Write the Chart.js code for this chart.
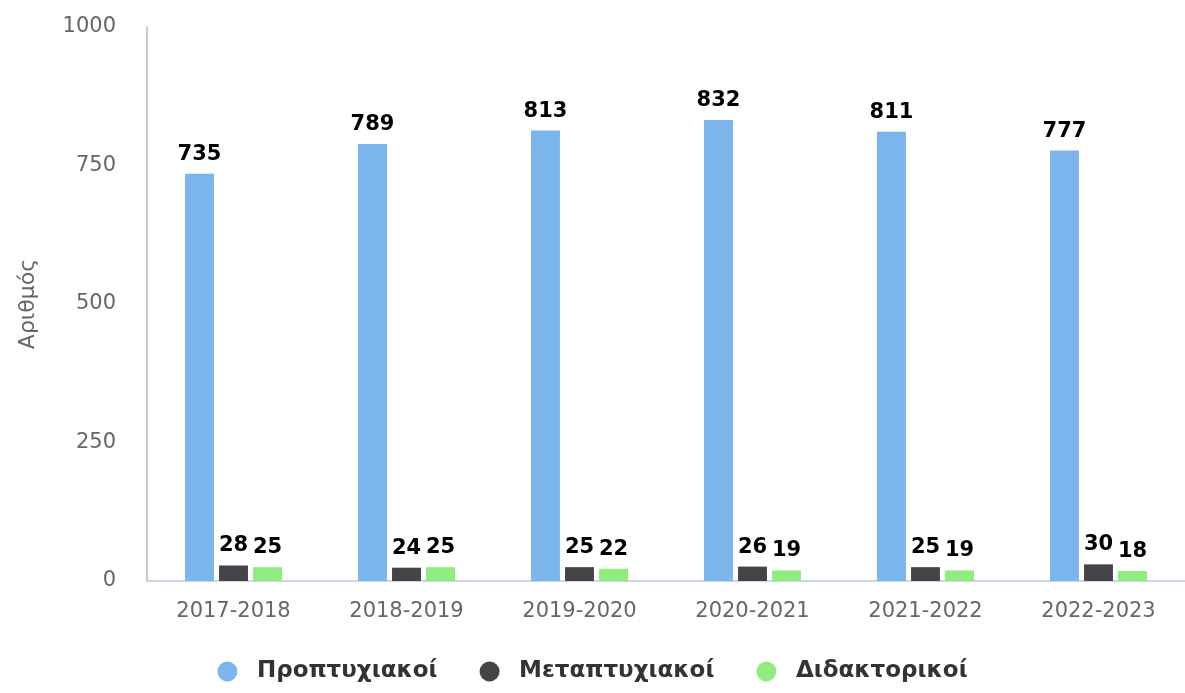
<!DOCTYPE html>
<html>
<head>
<meta charset="utf-8">
<script src="https://cdn.jsdelivr.net/npm/chart.js@4/dist/chart.umd.min.js"></script>
<style>
  html, body { margin: 0; padding: 0; background: #fff; }
  #wrap { width: 1185px; height: 693px; }
</style>
</head>
<body>
<div id="wrap"><canvas id="studentsChart"></canvas></div>
<script>
// academic years
const years = ['2017-2018', '2018-2019', '2019-2020', '2020-2021', '2021-2022', '2022-2023'];

// student counts per level
const undergrad = [735, 789, 813, 832, 811, 777];
const postgrad = [28, 24, 25, 26, 25, 30];
const doctoral = [25, 25, 22, 19, 19, 18];

const seriesNames = ['Προπτυχιακοί', 'Μεταπτυχιακοί', 'Διδακτορικοί'];
const yTicks = [0, 250, 500, 750, 1000];

const FONT = '"Lucida Grande", "DejaVu Sans", sans-serif';

// simple value labels above each bar
const barLabels = {
    id: 'barLabels',
    afterDatasetsDraw(chart) {
        const ctx = chart.ctx;
        ctx.save();
        ctx.font = 'bold 21px ' + FONT;
        ctx.textAlign = 'center';
        ctx.textBaseline = 'alphabetic';
        ctx.lineJoin = 'round';
        chart.data.datasets.forEach((ds, i) => {
            chart.getDatasetMeta(i).data.forEach((bar, j) => {
                const txt = String(ds.data[j]);
                ctx.lineWidth = 3;
                ctx.strokeStyle = '#fff';
                ctx.strokeText(txt, bar.x, bar.y - 14);
                ctx.fillStyle = '#000';
                ctx.fillText(txt, bar.x, bar.y - 14);
            });
        });
        ctx.restore();
    }
};

const ctx = document.getElementById('studentsChart').getContext('2d');
new Chart(ctx, {
    type: 'bar',
    data: {
        labels: years,
        datasets: [
            { label: seriesNames[0], data: undergrad, backgroundColor: '#7cb5ec' },
            { label: seriesNames[1], data: postgrad, backgroundColor: '#434348' },
            { label: seriesNames[2], data: doctoral, backgroundColor: '#90ed7d' }
        ]
    },
    options: {
        responsive: true,
        maintainAspectRatio: false,
        animation: false,
        layout: { padding: 0 },
        datasets: {
            bar: { categoryPercentage: 0.59, barPercentage: 0.85 }
        },
        plugins: {
            legend: {
                position: 'bottom',
                labels: {
                    usePointStyle: true,
                    pointStyle: 'circle',
                    pointStyleWidth: 20,
                    boxHeight: 14,
                    padding: 10,
                    color: '#333',
                    font: { family: FONT, size: 23, weight: 'bold' },
                    // extra spacing around the text like the original legend
                    generateLabels(chart) {
                        const items = Chart.defaults.plugins.legend.labels.generateLabels(chart);
                        items.forEach((it, k) => {
                            it.text = ' ' + it.text + (k < items.length - 1 ? '    ' : '');
                        });
                        return items;
                    }
                }
            },
            tooltip: { enabled: false }
        },
        scales: {
            x: {
                grid: { display: false, drawTicks: false },
                border: { color: '#ccd6eb', width: 2 },
                ticks: {
                    color: '#666',
                    padding: 18,
                    font: { family: FONT, size: 21 }
                },
                afterFit(scale) { scale.height = 69; }
            },
            y: {
                min: 0,
                max: 1000,
                afterBuildTicks(scale) { scale.ticks = yTicks.map(v => ({ value: v })); },
                grid: { display: false, drawTicks: false },
                border: { color: '#ccc', width: 2 },
                ticks: {
                    color: '#666',
                    padding: 31,
                    font: { family: FONT, size: 21 },
                    callback: v => String(v)
                },
                title: {
                    display: true,
                    text: 'Αριθμός',
                    color: '#666',
                    padding: { top: 15, bottom: 0 },
                    font: { family: FONT, size: 22 }
                },
                afterFit(scale) {
                    scale.width = 147;
                    scale.paddingTop = 27;
                    scale.paddingBottom = 0;
                }
            }
        }
    },
    plugins: [barLabels]
});
</script>
</body>
</html>
